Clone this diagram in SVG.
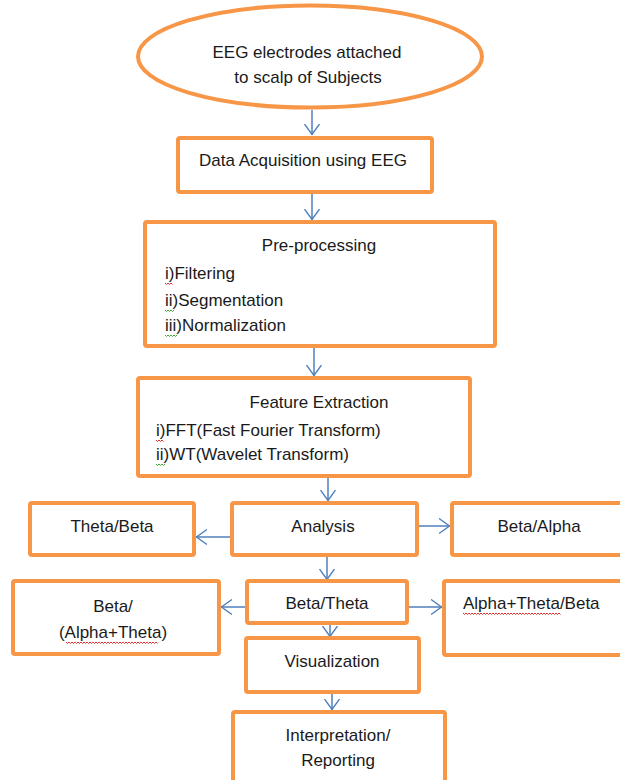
<svg xmlns="http://www.w3.org/2000/svg" width="620" height="780" viewBox="0 0 620 780">
<style>
.box{fill:#ffffff;stroke:#F79646;stroke-width:4;}
.t{font-family:"Liberation Sans",Arial,sans-serif;font-size:17px;fill:#1a1a1a;}
.c{text-anchor:middle;}
.con{stroke:#4F81BD;stroke-width:1.5;fill:none;}
.sq{fill:none;stroke-width:1;}
</style>
<defs>
<marker id="ah" viewBox="0 0 11 16" refX="11" refY="8" markerWidth="11" markerHeight="16" markerUnits="userSpaceOnUse" orient="auto">
<path d="M0,0.5 L10.5,8 L0,15.5" fill="none" stroke="#4F81BD" stroke-width="1.4"/>
</marker>
</defs>
<rect width="620" height="780" fill="#ffffff"/>

<g id="connectors">
<line class="con" x1="312" y1="110" x2="312" y2="135" marker-end="url(#ah)"/>
<line class="con" x1="312" y1="192" x2="312" y2="220" marker-end="url(#ah)"/>
<line class="con" x1="314" y1="346" x2="314" y2="376" marker-end="url(#ah)"/>
<line class="con" x1="328" y1="476" x2="328" y2="501" marker-end="url(#ah)"/>
<line class="con" x1="232" y1="537" x2="196" y2="537" marker-end="url(#ah)"/>
<line class="con" x1="417" y1="526" x2="450" y2="526" marker-end="url(#ah)"/>
<line class="con" x1="327" y1="555" x2="327" y2="580" marker-end="url(#ah)"/>
<line class="con" x1="247" y1="607" x2="221" y2="607" marker-end="url(#ah)"/>
<line class="con" x1="407" y1="607" x2="442" y2="607" marker-end="url(#ah)"/>
<line class="con" x1="330" y1="623" x2="330" y2="637" marker-end="url(#ah)"/>
<line class="con" x1="332" y1="692" x2="332" y2="710" marker-end="url(#ah)"/>
</g>

<g id="n_electrodes">
<ellipse cx="310" cy="56.5" rx="172" ry="51" fill="#ffffff" stroke="#F79646" stroke-width="4"/>
<text class="t c" x="307" y="58">EEG electrodes attached</text>
<text class="t c" x="308" y="83">to scalp of Subjects</text>
</g>

<g id="n_acquisition">
<rect class="box" x="178" y="138" width="254" height="54" rx="2"/>
<text class="t c" x="303" y="166">Data Acquisition using EEG</text>
</g>

<g id="n_preprocessing">
<rect class="box" x="145" y="222" width="350" height="124" rx="2"/>
<text class="t c" x="319" y="251">Pre-processing</text>
<text class="t" x="165" y="279">i)Filtering</text>
<text class="t" x="165" y="306">ii)Segmentation</text>
<text class="t" x="165" y="331">iii)Normalization</text>
<path class="sq" stroke="#E03030" d="M165,283 l1.5,1.5 l1.5,-1.5 l1.5,1.5 l1.5,-1.5 l1.5,1.5"/>
<path class="sq" stroke="#3AAA35" d="M165,310 l1.5,1.5 l1.5,-1.5 l1.5,1.5 l1.5,-1.5 l1.5,1.5 l1.5,-1.5"/>
<path class="sq" stroke="#3AAA35" d="M165,335 l1.5,1.5 l1.5,-1.5 l1.5,1.5 l1.5,-1.5 l1.5,1.5 l1.5,-1.5 l1.5,1.5 l1.5,-1.5"/>
</g>

<g id="n_feature">
<rect class="box" x="138" y="378" width="332" height="98" rx="2"/>
<text class="t c" x="319" y="408">Feature Extraction</text>
<text class="t" x="156" y="436">i)FFT(Fast Fourier Transform)</text>
<text class="t" x="156" y="460">ii)WT(Wavelet Transform)</text>
<path class="sq" stroke="#E03030" d="M156,440 l1.5,1.5 l1.5,-1.5 l1.5,1.5 l1.5,-1.5 l1.5,1.5"/>
<path class="sq" stroke="#3AAA35" d="M156,464 l1.5,1.5 l1.5,-1.5 l1.5,1.5 l1.5,-1.5 l1.5,1.5 l1.5,-1.5"/>
</g>

<g id="n_theta_beta">
<rect class="box" x="30" y="503" width="164" height="52" rx="2"/>
<text class="t c" x="112" y="532">Theta/Beta</text>
</g>

<g id="n_analysis">
<rect class="box" x="232" y="503" width="185" height="52" rx="2"/>
<text class="t c" x="323" y="532">Analysis</text>
</g>

<g id="n_beta_alpha">
<rect class="box" x="452" y="503" width="180" height="52" rx="2"/>
<text class="t c" x="539" y="532">Beta/Alpha</text>
</g>

<g id="n_beta_alpha_theta">
<rect class="box" x="13" y="581" width="206" height="73" rx="2"/>
<text class="t c" x="113" y="612">Beta/</text>
<text class="t c" x="113" y="638">(Alpha+Theta)</text>
<path class="sq" stroke="#E03030" d="M66,642 l1.5,1.5 l1.5,-1.5 l1.5,1.5 l1.5,-1.5 l1.5,1.5 l1.5,-1.5 l1.5,1.5 l1.5,-1.5 l1.5,1.5 l1.5,-1.5 l1.5,1.5 l1.5,-1.5 l1.5,1.5 l1.5,-1.5 l1.5,1.5 l1.5,-1.5 l1.5,1.5 l1.5,-1.5 l1.5,1.5 l1.5,-1.5 l1.5,1.5 l1.5,-1.5 l1.5,1.5 l1.5,-1.5 l1.5,1.5 l1.5,-1.5 l1.5,1.5 l1.5,-1.5 l1.5,1.5 l1.5,-1.5 l1.5,1.5 l1.5,-1.5 l1.5,1.5 l1.5,-1.5 l1.5,1.5 l1.5,-1.5 l1.5,1.5 l1.5,-1.5 l1.5,1.5 l1.5,-1.5 l1.5,1.5 l1.5,-1.5 l1.5,1.5 l1.5,-1.5 l1.5,1.5 l1.5,-1.5 l1.5,1.5 l1.5,-1.5 l1.5,1.5 l1.5,-1.5 l1.5,1.5 l1.5,-1.5 l1.5,1.5 l1.5,-1.5 l1.5,1.5 l1.5,-1.5 l1.5,1.5 l1.5,-1.5 l1.5,1.5 l1.5,-1.5 l1.5,1.5"/>
</g>

<g id="n_beta_theta">
<rect class="box" x="247" y="581" width="160" height="42" rx="2"/>
<text class="t c" x="327" y="609">Beta/Theta</text>
</g>

<g id="n_alpha_theta_beta">
<rect class="box" x="444" y="581" width="190" height="74" rx="2"/>
<text class="t" x="463" y="609">Alpha+Theta/Beta</text>
<path class="sq" stroke="#E03030" d="M463,613 l1.5,1.5 l1.5,-1.5 l1.5,1.5 l1.5,-1.5 l1.5,1.5 l1.5,-1.5 l1.5,1.5 l1.5,-1.5 l1.5,1.5 l1.5,-1.5 l1.5,1.5 l1.5,-1.5 l1.5,1.5 l1.5,-1.5 l1.5,1.5 l1.5,-1.5 l1.5,1.5 l1.5,-1.5 l1.5,1.5 l1.5,-1.5 l1.5,1.5 l1.5,-1.5 l1.5,1.5 l1.5,-1.5 l1.5,1.5 l1.5,-1.5 l1.5,1.5 l1.5,-1.5 l1.5,1.5 l1.5,-1.5 l1.5,1.5 l1.5,-1.5 l1.5,1.5 l1.5,-1.5 l1.5,1.5 l1.5,-1.5 l1.5,1.5 l1.5,-1.5 l1.5,1.5 l1.5,-1.5 l1.5,1.5 l1.5,-1.5 l1.5,1.5 l1.5,-1.5 l1.5,1.5 l1.5,-1.5 l1.5,1.5 l1.5,-1.5 l1.5,1.5 l1.5,-1.5 l1.5,1.5 l1.5,-1.5 l1.5,1.5 l1.5,-1.5 l1.5,1.5 l1.5,-1.5 l1.5,1.5 l1.5,-1.5 l1.5,1.5 l1.5,-1.5 l1.5,1.5 l1.5,-1.5 l1.5,1.5 l1.5,-1.5 l1.5,1.5"/>
</g>

<g id="n_visualization">
<rect class="box" x="246" y="638" width="173" height="54" rx="2"/>
<text class="t c" x="332" y="667">Visualization</text>
</g>

<g id="n_interpretation">
<rect class="box" x="233" y="712" width="212" height="80" rx="2"/>
<text class="t c" x="338" y="741">Interpretation/</text>
<text class="t c" x="338" y="766">Reporting</text>
</g>
</svg>
